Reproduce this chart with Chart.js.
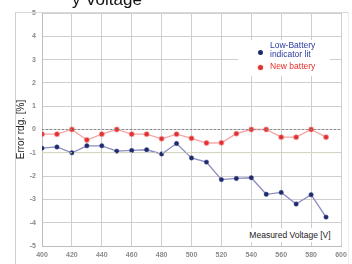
<!DOCTYPE html>
<html>
<head>
<meta charset="utf-8">
<script src="https://cdn.jsdelivr.net/npm/chart.js@4/dist/chart.umd.min.js"></script>
<style>
  html,body{margin:0;padding:0;background:#fff;}
  #wrap{position:relative;width:352px;height:264px;overflow:hidden;font-family:'Liberation Sans',Arial,sans-serif;}
  #frame{position:absolute;left:15px;top:12px;width:332px;height:260px;border-left:1px solid #cfcfcf;border-top:1px solid #d8d8d8;border-right:1px solid #eeeeee;}
  #title{position:absolute;left:72px;top:-10px;font-size:17px;color:#111;white-space:nowrap;}
  #legend{position:absolute;left:238px;top:40px;width:92px;height:36px;background:#fff;font-size:8.5px;line-height:9px;}
  .lg{position:absolute;left:32px;}
  .dot{position:absolute;left:20px;width:5px;height:5px;border-radius:50%;}
  #xtitle{position:absolute;left:243px;top:228px;width:94px;height:14px;background:#fff;font-size:8.5px;color:#222;line-height:14px;text-align:center;}
</style>
</head>
<body>
<div id="wrap">
  <div id="frame"></div>
  <div id="title">y Voltage</div>
  <canvas id="c" width="352" height="264"></canvas>
  <div id="legend">
    <div class="dot" style="top:10px;background:#1e2a6a"></div>
    <div class="lg" style="top:1px;color:#2a3aa0">Low-Battery<br>indicator lit</div>
    <div class="dot" style="top:25px;background:#e03030;box-shadow:0 0 2px #f59a9a"></div>
    <div class="lg" style="top:22px;color:#e8302a">New battery</div>
  </div>
  <div id="xtitle">Measured Voltage [V]</div>
</div>
<script>
/* ── data ── */
const VOLTS = [400,410,420,430,440,450,460,470,480,490,500,510,520,530,540,550,560,570,580,590];
const LOW_BATT = [-0.8,-0.75,-1.0,-0.7,-0.7,-0.93,-0.9,-0.87,-1.05,-0.6,-1.22,-1.4,-2.15,-2.1,-2.07,-2.78,-2.7,-3.2,-2.8,-3.76];
const NEW_BATT = [-0.2,-0.2,0,-0.45,-0.2,0,-0.2,-0.2,-0.4,-0.2,-0.38,-0.58,-0.57,-0.18,0,0,-0.33,-0.33,0,-0.33];
const X_RANGE = [400,600];
const Y_RANGE = [-5,5];
const REF_ZERO = [0,0];
const REF_MINUS1 = [-1,-1];

const pts = (xs,ys) => xs.map((x,i)=>({x, y:ys[i]}));

new Chart(document.getElementById('c'), {
  type:'line',
  data:{
    datasets:[
      { data:pts(X_RANGE,REF_MINUS1), borderColor:'#dfe2b0', borderWidth:1, borderDash:[2,2], pointRadius:0 },
      { data:pts(X_RANGE,REF_ZERO), borderColor:'#8a8a8a', borderWidth:1, borderDash:[2,2], pointRadius:0 },
      { label:'Low-Battery indicator lit', data:pts(VOLTS,LOW_BATT), borderColor:'#8c8cc0', borderWidth:1.3,
        pointBackgroundColor:'#1e2a6a', pointBorderColor:'rgba(60,70,140,.5)', pointBorderWidth:1, pointRadius:2.2, tension:0 },
      { label:'New battery', data:pts(VOLTS,NEW_BATT), borderColor:'#f4a4a4', borderWidth:1.3,
        pointBackgroundColor:'#e03030', pointBorderColor:'rgba(240,120,120,.5)', pointBorderWidth:1.2, pointRadius:2.4, tension:0 }
    ]
  },
  options:{
    responsive:false, animation:false,
    layout:{ padding:{ left:15, top:13, right:11, bottom:0 } },
    plugins:{ legend:{display:false}, tooltip:{enabled:false} },
    scales:{
      x:{ type:'linear', min:X_RANGE[0], max:X_RANGE[1],
          afterFit:s=>{ s.height = 18; },
          border:{ color:'#bdbdbd' },
          grid:{ color:'#cfcfcf', drawTicks:false },
          ticks:{ stepSize:20, padding:5, color:'#8a8a8a', font:{family:'Liberation Sans', size:7, weight:'bold'} } },
      y:{ min:Y_RANGE[0], max:Y_RANGE[1],
          afterFit:s=>{ s.width = 27; },
          border:{ color:'#bdbdbd' },
          grid:{ color:'#cfcfcf', drawTicks:false },
          title:{ display:true, text:'Error rdg. [%]', color:'#222', padding:0, font:{family:'Liberation Sans', size:10} },
          ticks:{ stepSize:1, padding:6, color:'#8a8a8a', font:{family:'Liberation Sans', size:7, weight:'bold'} } }
    }
  }
});
</script>
</body>
</html>
